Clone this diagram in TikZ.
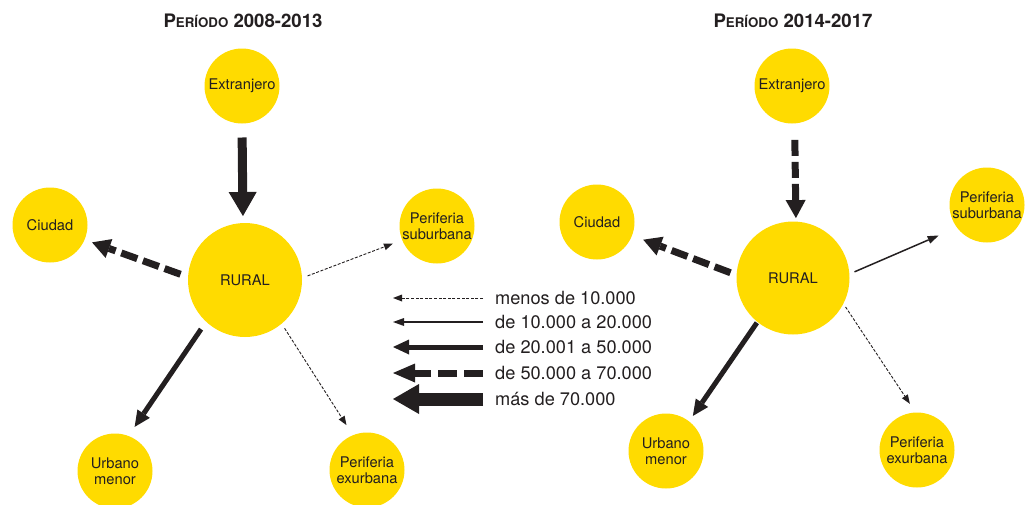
\documentclass[tikz,border=0pt]{standalone}
\usepackage{fontspec}
\setmainfont{TeX Gyre Heros}
\usetikzlibrary{arrows.meta}
\definecolor{dotyellow}{RGB}{255,219,0}
\definecolor{ink}{RGB}{35,31,32}

\begin{document}
\begin{tikzpicture}[x=1pt,y=-1pt,
  place/.style={circle, fill=dotyellow, inner sep=0pt, outer sep=0pt,
    minimum size=#1, align=center, text=ink,
    font=\fontsize{14.7}{15.5}\selectfont},
  place/.default=75pt,
  flow/.style={draw=ink, line cap=butt},
  tinyflow/.style={flow, line width=0.9pt, dash pattern=on 3pt off 1.6pt,
    -{Triangle[length=9pt,width=7pt,line width=0pt]}},
  thinflow/.style={flow, line width=1.5pt,
    -{Triangle[length=11pt,width=8pt,line width=0pt]}},
  midflow/.style={flow, line width=5pt,
    -{Triangle[length=16pt,width=15pt,line width=0pt]}},
  dashflow/.style={flow, line width=7pt, dash pattern=on 17pt off 6pt,
    -{Triangle[length=18pt,width=20pt,line width=0pt]}},
  bigflow/.style={flow, line width=9pt,
    -{Triangle[length=24pt,width=28pt,line width=0pt]}},
  legdash/.style={flow, line width=7pt, dash pattern=on 19pt off 7pt,
    -{Triangle[length=22pt,width=19pt,line width=0pt]}},
  legbig/.style={flow, line width=13pt,
    -{Triangle[length=26pt,width=30pt,line width=0pt]}},
  title/.style={anchor=base, text=ink, font=\fontsize{18.6}{20}\selectfont\bfseries},
  legtext/.style={anchor=base west, text=ink, inner sep=0pt,
    font=\fontsize{18.2}{20}\selectfont},
]
\useasboundingbox (0,0) rectangle (1025,504);
\clip (0,0) rectangle (1025,504);

% ---------- period 2008-2013 ----------
\node[title] (titleL) at (243,27) {P{\fontsize{13.3}{14}\selectfont ERÍODO} 2008-2013};

\node[place] (extL) at (242,86) {Extranjero};
\node[place=114pt] (rurL) at (245,280) {RURAL};
\node[place] (ciuL) at (50,225) {Ciudad};
\node[place] (subL) at (437,226) {Periferia\\suburbana};
\node[place] (urbL) at (115,471) {Urbano\\menor};
\node[place] (exuL) at (367,470) {Periferia\\exurbana};

\draw[bigflow, shorten <=14pt, shorten >=7pt] (extL.270) -- (rurL.92);
\draw[dashflow, shorten <=8pt, shorten >=8pt] (rurL.177) -- (ciuL.337);
\draw[midflow, shorten <=9pt, shorten >=11pt] (rurL.227) -- (urbL.69);
\draw[tinyflow, shorten <=6pt, shorten >=10pt] (rurL.2) -- (subL.202);
\draw[tinyflow, shorten <=5.5pt, shorten >=12pt] (rurL.310) -- (exuL.112);

% ---------- period 2014-2017 ----------
\node[title] (titleR) at (793,27) {P{\fontsize{13.3}{14}\selectfont ERÍODO} 2014-2017};

\node[place] (extR) at (792,86) {Extranjero};
\node[place=113pt] (rurR) at (793,278) {RURAL};
\node[place] (ciuR) at (597,222) {Ciudad};
\node[place] (subR) at (987,205) {Periferia\\suburbana};
\node[place] (urbR) at (666,451) {Urbano\\menor};
\node[place] (exuR) at (917,450) {Periferia\\exurbana};

\draw[dashflow, dash pattern=on 16pt off 6pt, shorten <=16.5pt, shorten >=3.5pt] (extR.-86) -- (rurR.87);
\draw[dashflow, shorten <=6.5pt, shorten >=12pt] (rurR.177) -- (ciuR.339);
\draw[thinflow, shorten <=5.6pt, shorten >=20pt] (rurR.4) -- (subR.217);
\draw[midflow, shorten <=1pt, shorten >=6.7pt] (rurR.231) -- (urbR.52);
\draw[tinyflow, shorten <=4pt, shorten >=10.5pt] (rurR.333) -- (exuR.92);

% ---------- legend ----------
\coordinate (la1) at (483,298); \coordinate (lb1) at (393,298);
\coordinate (la2) at (483,322); \coordinate (lb2) at (393,322);
\coordinate (la3) at (483,347); \coordinate (lb3) at (393,347);
\coordinate (la4) at (483,373); \coordinate (lb4) at (393,373);
\coordinate (la5) at (483,399); \coordinate (lb5) at (393,399);

\draw[tinyflow] (la1) -- (lb1);
\draw[thinflow] (la2) -- (lb2);
\draw[midflow] (la3) -- (lb3);
\draw[legdash] (la4) -- (lb4);
\draw[legbig] (la5) -- (lb5);

\node[legtext] (lt1) at (495,304.5) {menos de 10.000};
\node[legtext] (lt2) at (495,328.5) {de 10.000 a 20.000};
\node[legtext] (lt3) at (495,353.5) {de 20.001 a 50.000};
\node[legtext] (lt4) at (495,379.5) {de 50.000 a 70.000};
\node[legtext] (lt5) at (495,405.5) {más de 70.000};
\end{tikzpicture}
\end{document}
